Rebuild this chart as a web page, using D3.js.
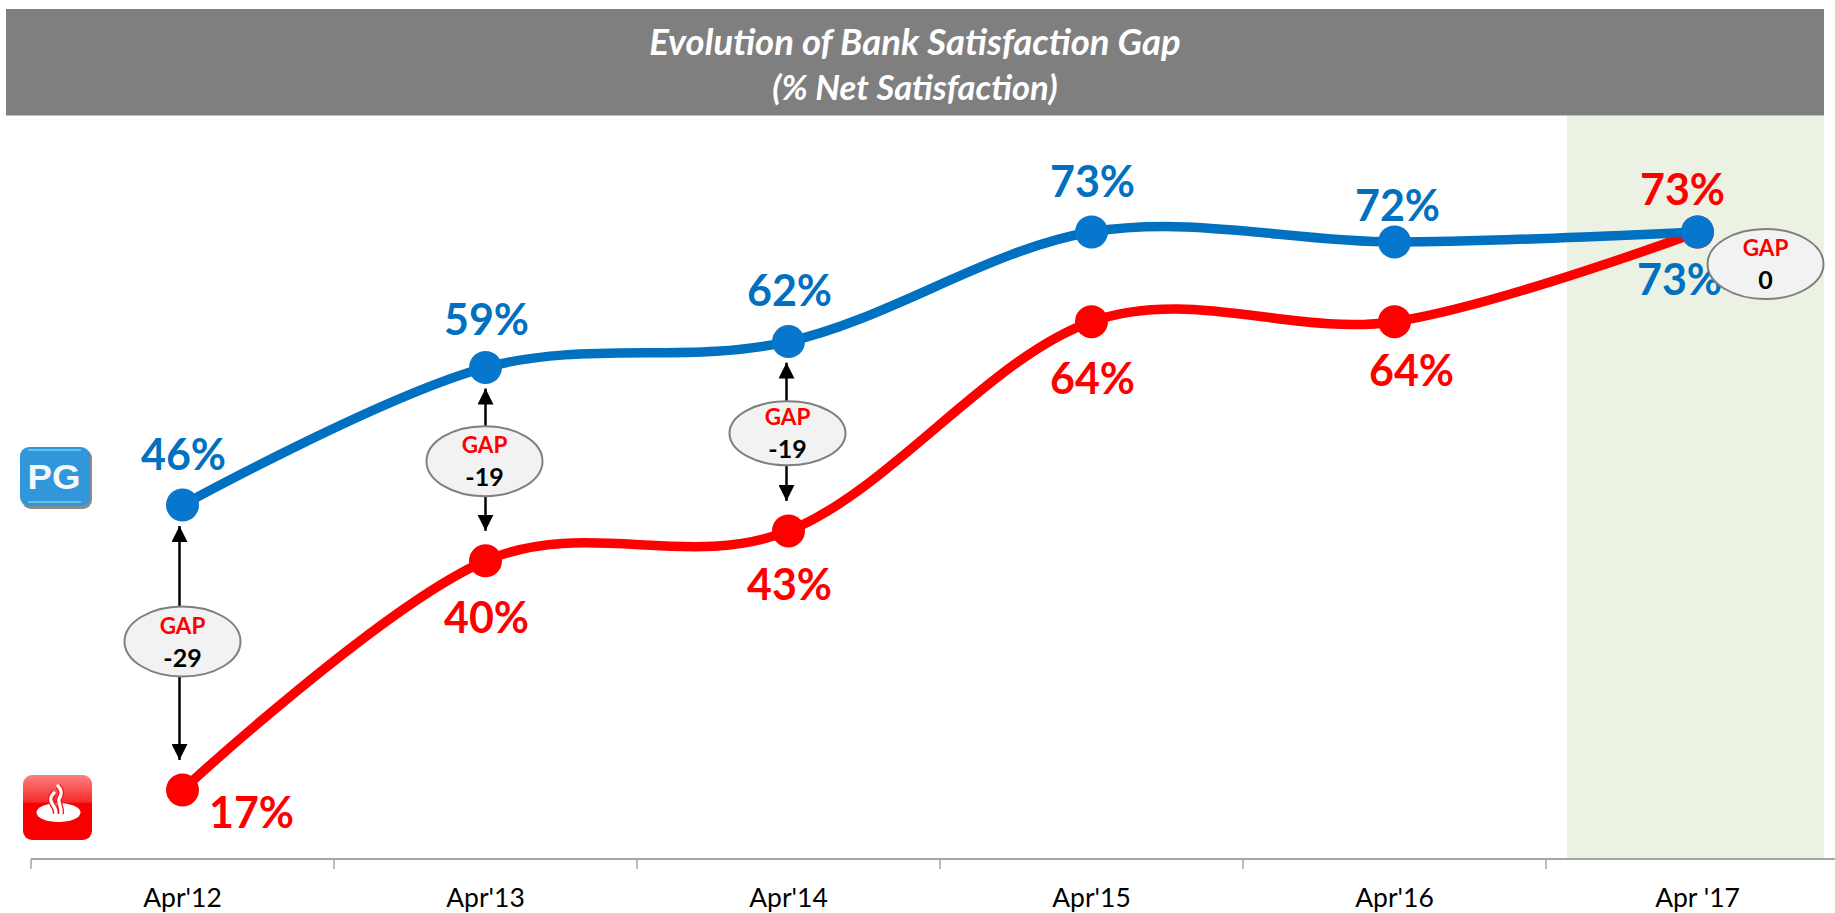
<!DOCTYPE html>
<html>
<head>
<meta charset="utf-8">
<title>Evolution of Bank Satisfaction Gap</title>
<script src="https://cdn.jsdelivr.net/npm/d3@7"></script>
<style>
  html, body { margin: 0; padding: 0; background: #fff; overflow: hidden; }
  text { font-family: Lato, "Open Sans", sans-serif; }
</style>
</head>
<body>
<div id="chart"></div>
<script>
// values
const categories = ["Apr'12", "Apr'13", "Apr'14", "Apr'15", "Apr'16", "Apr '17"];
const pgValues = [45.6, 59.4, 62, 73, 72, 73];
const santanderValues = [17, 40, 43, 64, 64, 73];
const gapValues = [-29, -19, -19, null, null, 0];

const titleLines = ["Evolution of Bank Satisfaction Gap", "(% Net Satisfaction)"];

const width = 1835;
const height = 913;
const blue = "#0070C0";
const red = "#FF0000";

// label offsets from their point [dx, dy to baseline]
const pgLabelOffsets = [[1, -35], [1, -33], [1, -36], [1, -35], [3, -21], [-18, 63]];
const santanderLabelOffsets = [[69, 38], [1, 72], [1, 69], [1, 72], [17, 64], [-15, -27]];

const svg = d3.select("#chart").append("svg")
    .attr("width", width)
    .attr("height", height)
    .style("display", "block");

const x = d3.scaleBand().domain(categories).range([31, 1849]);
const y = d3.scaleLinear().domain([17, 73]).range([790, 232]);
const cx = d => x(d) + x.bandwidth() / 2;

// highlighted last period
svg.append("rect")
    .attr("x", x(categories[5]) + 21)
    .attr("y", 115)
    .attr("width", 257)
    .attr("height", 743)
    .attr("fill", "#EBF1E3");

// title bar
svg.append("rect")
    .attr("x", 6).attr("y", 9)
    .attr("width", 1818).attr("height", 106)
    .attr("fill", "#7F7F7F");
svg.append("line")
    .attr("x1", 6).attr("x2", 1824)
    .attr("y1", 115.5).attr("y2", 115.5)
    .attr("stroke", "#BFBFBF");

svg.selectAll(".title")
    .data(titleLines)
    .enter()
    .append("text")
    .attr("class", "title")
    .attr("x", 915)
    .attr("y", (d, i) => 55 + i * 45)
    .attr("text-anchor", "middle")
    .attr("fill", "#fff")
    .style("font-size", (d, i) => i === 0 ? "36.5px" : "34.5px")
    .style("font-weight", 700)
    .style("font-style", "italic")
    .text(d => d);

// x axis: ticks sit on the band edges, labels in the middle
const axis = svg.append("g")
    .attr("transform", "translate(0,859)")
    .call(d3.axisBottom(x).tickSize(0).tickPadding(29));
axis.select(".domain").remove();
axis.append("line")
    .attr("x1", 31).attr("x2", width)
    .attr("stroke", "#A6A6A6")
    .attr("stroke-width", 2);
axis.selectAll(".edge")
    .data(categories)
    .enter()
    .append("line")
    .attr("class", "edge")
    .attr("x1", d => x(d)).attr("x2", d => x(d))
    .attr("y1", 0).attr("y2", 10)
    .attr("stroke", "#A6A6A6")
    .attr("stroke-width", 1.5);
axis.selectAll(".tick text")
    .attr("fill", "#000")
    .style("font-family", "Lato, sans-serif")
    .style("font-size", "26.5px");

// smoothed series lines
const line = d3.line()
    .x((d, i) => cx(categories[i]))
    .y(d => y(d))
    .curve(d3.curveCardinal.tension(0));

const series = [
    { name: "santander", values: santanderValues, color: red, offsets: santanderLabelOffsets },
    { name: "pg", values: pgValues, color: blue, offsets: pgLabelOffsets }
];

series.forEach(s => {
    svg.append("path")
        .attr("d", line(s.values))
        .attr("fill", "none")
        .attr("stroke", s.color)
        .attr("stroke-width", 9.5)
        .attr("stroke-linecap", "round");
});
series.forEach(s => {
    svg.selectAll(".dot-" + s.name)
        .data(s.values)
        .enter()
        .append("circle")
        .attr("class", "dot-" + s.name)
        .attr("cx", (d, i) => cx(categories[i]))
        .attr("cy", d => y(d))
        .attr("r", 16.5)
        .attr("fill", s.name === "pg" ? "#0777CD" : red);
    svg.selectAll(".label-" + s.name)
        .data(s.values)
        .enter()
        .append("text")
        .attr("class", "label-" + s.name)
        .attr("x", (d, i) => cx(categories[i]) + s.offsets[i][0])
        .attr("y", (d, i) => y(d) + s.offsets[i][1])
        .attr("text-anchor", "middle")
        .attr("fill", s.color)
        .style("font-size", "43px")
        .style("font-weight", 700)
        .text(d => Math.round(d) + "%");
});

// double arrows between the lines, then the GAP bubbles
const defs = svg.append("defs");
defs.append("marker")
    .attr("id", "arrow")
    .attr("viewBox", "0 0 16 16")
    .attr("refX", 16).attr("refY", 8)
    .attr("markerWidth", 16).attr("markerHeight", 16)
    .attr("markerUnits", "userSpaceOnUse")
    .attr("orient", "auto-start-reverse")
    .append("path")
    .attr("d", "M0,0L16,8L0,16Z")
    .attr("fill", "#000");

// bubble centre relative to the middle of the gap, dx for the whole group
const gapLayout = [
    { dy: -6, dx: 0, arrowDx: -3, ry: 35 },
    { dy: -3, dx: -1, arrowDx: 0, ry: 35 },
    { dy: -3, dx: -1, arrowDx: -2, ry: 32 },
    null,
    null,
    { dy: 32, dx: 68, arrowDx: 0, ry: 35 }
];

gapValues.forEach((gap, i) => {
    if (gap === null) return;
    const layout = gapLayout[i];
    const px = cx(categories[i]);
    const top = y(pgValues[i]);
    const bottom = y(santanderValues[i]);
    const by = (top + bottom) / 2 + layout.dy;

    if (gap !== 0) {
        svg.append("line")
            .attr("x1", px + layout.arrowDx).attr("x2", px + layout.arrowDx)
            .attr("y1", top + 21).attr("y2", bottom - 30)
            .attr("stroke", "#000")
            .attr("stroke-width", 2.5)
            .attr("marker-start", "url(#arrow)")
            .attr("marker-end", "url(#arrow)");
    }

    const bubble = svg.append("g")
        .attr("transform", `translate(${px + layout.dx},${by})`);
    bubble.append("ellipse")
        .attr("rx", 58)
        .attr("ry", layout.ry)
        .attr("fill", "#F2F2F2")
        .attr("stroke", "#7F7F7F")
        .attr("stroke-width", 2);
    bubble.append("text")
        .attr("y", -8)
        .attr("text-anchor", "middle")
        .attr("fill", red)
        .style("font-size", "22.5px")
        .style("font-weight", 700)
        .text("GAP");
    bubble.append("text")
        .attr("y", 25)
        .attr("text-anchor", "middle")
        .attr("fill", "#000")
        .style("font-size", "25px")
        .style("font-weight", 700)
        .text(gap);
});

// bank logos
const redGrad = defs.append("linearGradient")
    .attr("id", "redGrad")
    .attr("x1", 0).attr("y1", 0).attr("x2", 0).attr("y2", 1);
redGrad.append("stop").attr("offset", 0).attr("stop-color", "#FF8080");
redGrad.append("stop").attr("offset", 0.42).attr("stop-color", "#F52A2A");
redGrad.append("stop").attr("offset", 0.43).attr("stop-color", "#F60000");
redGrad.append("stop").attr("offset", 1).attr("stop-color", "#F60000");

const pgLogo = svg.append("g").attr("transform", "translate(19,447)");
pgLogo.append("rect")
    .attr("x", 3).attr("y", 2)
    .attr("width", 70).attr("height", 60)
    .attr("rx", 9)
    .attr("fill", "#8A8A8A");
pgLogo.append("rect")
    .attr("x", 1)
    .attr("width", 70).attr("height", 59)
    .attr("rx", 9)
    .attr("fill", "#3196DA");
pgLogo.selectAll(".shine")
    .data([3, 55])
    .enter()
    .append("line")
    .attr("class", "shine")
    .attr("x1", 9).attr("x2", 62)
    .attr("y1", d => d).attr("y2", d => d)
    .attr("stroke", "#6FD0EE")
    .attr("stroke-width", 1.5);
pgLogo.append("text")
    .attr("x", 35)
    .attr("y", 42)
    .attr("text-anchor", "middle")
    .attr("textLength", 53)
    .attr("lengthAdjust", "spacingAndGlyphs")
    .attr("fill", "#F4F8FB")
    .style("font-family", "Liberation Sans, sans-serif")
    .style("font-size", "35px")
    .style("font-weight", 700)
    .text("PG");

const santanderLogo = svg.append("g").attr("transform", "translate(23,775)");
santanderLogo.append("rect")
    .attr("width", 69).attr("height", 65)
    .attr("rx", 9)
    .attr("fill", "url(#redGrad)");
santanderLogo.append("ellipse")
    .attr("cx", 35.5).attr("cy", 37.5)
    .attr("rx", 22).attr("ry", 9.5)
    .attr("fill", "#fff");
// two flame strands, red halo cuts them out of the oval
const flames = [
    "M35,11C40,16 38.5,20 36,24C34.5,28 39,31 38,39",
    "M31,18C26.5,22 27.5,27 30,30C32,32.5 33,36 33,39"
];
flames.forEach(d => {
    santanderLogo.append("path")
        .attr("d", d)
        .attr("fill", "none")
        .attr("stroke", "#F01818")
        .attr("stroke-width", 6);
});
flames.forEach(d => {
    santanderLogo.append("path")
        .attr("d", d)
        .attr("fill", "none")
        .attr("stroke", "#fff")
        .attr("stroke-width", 3.4)
        .attr("stroke-linecap", "round");
});
</script>
</body>
</html>
